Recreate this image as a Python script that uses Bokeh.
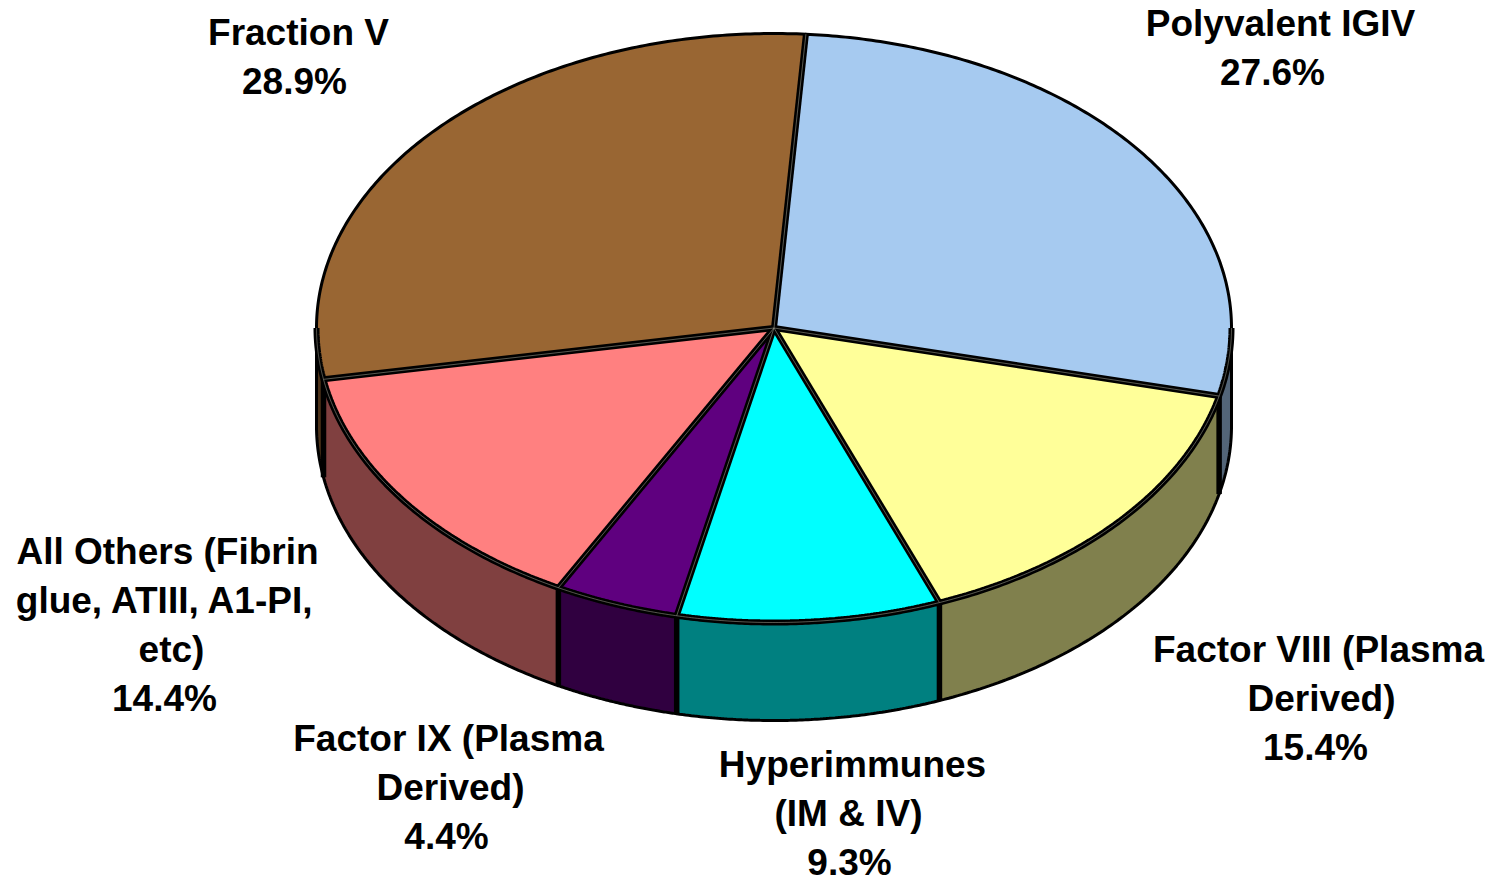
import numpy as np
from bokeh.plotting import figure
from bokeh.models import Range1d
from bokeh.core.properties import value
from bokeh.embed import file_html
from bokeh.resources import INLINE

# ---- data
categories = ["Polyvalent IGIV", "Factor VIII (Plasma Derived)", "Hyperimmunes (IM & IV)",
              "Factor IX (Plasma Derived)", "All Others (Fibrin glue, ATIII, A1-PI, etc)", "Fraction V"]
shares = [27.6, 15.4, 9.3, 4.4, 14.4, 28.9]
top_colors = ["#A6CAF0", "#FFFF99", "#00FFFF", "#5F007F", "#FF8080", "#996633"]
side_colors = ["#536578", "#80804D", "#008080", "#300040", "#804040", "#4D331A"]
label_lines = [["Polyvalent IGIV"], ["Factor VIII (Plasma", "Derived)"], ["Hyperimmunes", "(IM & IV)"],
               ["Factor IX (Plasma", "Derived)"], ["All Others (Fibrin", "glue, ATIII, A1-PI,", "etc)"], ["Fraction V"]]

# ---- layout (page pixels)
W, H = 1499, 878
CX, CY, RX, RY, DEPTH = 773.5, 327.5, 457.5, 294.5, 98
START = 4.0
label_x = [[1280, 1272], [1318, 1321, 1315], [852, 848, 849], [448, 450, 446], [167, 165, 171, 164], [298, 294]]
label_y = [22.5, 648.5, 763.5, 738, 550.5, 32]
LINE = 49.2

p = figure(width=W, height=H, output_backend="svg", toolbar_location=None,
           x_range=Range1d(0, W), y_range=Range1d(H, 0), min_border=0)
p.axis.visible = False
p.grid.visible = False
p.outline_line_color = None


def ell(t):
    r = np.radians(t)
    return CX + RX * np.sin(r), CY - RY * np.cos(r)


edges = START + np.concatenate([[0], np.cumsum(shares)]) * 3.6

# side walls
xs, ys, fills = [], [], []
front_rims = []
for i, col in enumerate(side_colors):
    a, b = max(edges[i], 90), min(edges[i + 1], 270)
    if a >= b:
        continue
    t = np.linspace(a, b, 90)
    x, y = ell(t)
    xs.append(np.r_[x, x[::-1]])
    ys.append(np.r_[y, y[::-1] + DEPTH])
    fills.append(col)
    front_rims.append((x, y))
p.patches(xs, ys, fill_color=fills, line_color="black", line_width=3.0)

# vertical edges between walls
vx, vy = [], []
for e in edges:
    if 90 < e % 360 < 270:
        x, y = ell(e)
        vx.append([x, x]); vy.append([y, y + DEPTH])
p.multi_line(vx, vy, line_color="black", line_width=5.5)

# top faces
xs, ys = [], []
for i in range(len(shares)):
    x, y = ell(np.linspace(edges[i], edges[i + 1], 180))
    xs.append(np.r_[CX, x]); ys.append(np.r_[CY, y])
p.patches(xs, ys, fill_color=top_colors, line_color="black", line_width=3.0, line_join="round")

# double lines: spokes and front rim
sx, sy = [], []
for e in edges[:-1]:
    x, y = ell(e)
    sx.append([CX, x]); sy.append([CY, y])
for x, y in front_rims:
    sx.append(x); sy.append(y)
p.multi_line(sx, sy, line_color="black", line_width=6)
p.multi_line(sx, sy, line_color="#B0B0A0", line_width=1.0, line_alpha=0.5)

# labels
tx, ty, tt = [], [], []
for i, lines in enumerate(label_lines):
    rows = lines + [f"{shares[i]:.1f}%"]
    for j, s in enumerate(rows):
        tx.append(label_x[i][j]); ty.append(label_y[i] + j * LINE); tt.append(s)
p.text(tx, ty, text=tt, text_font=value("Liberation Sans"), text_font_style="bold",
       text_font_size="37px", text_color="black", text_align="center", text_baseline="middle")

open("out.html", "w").write(file_html(p, INLINE))
